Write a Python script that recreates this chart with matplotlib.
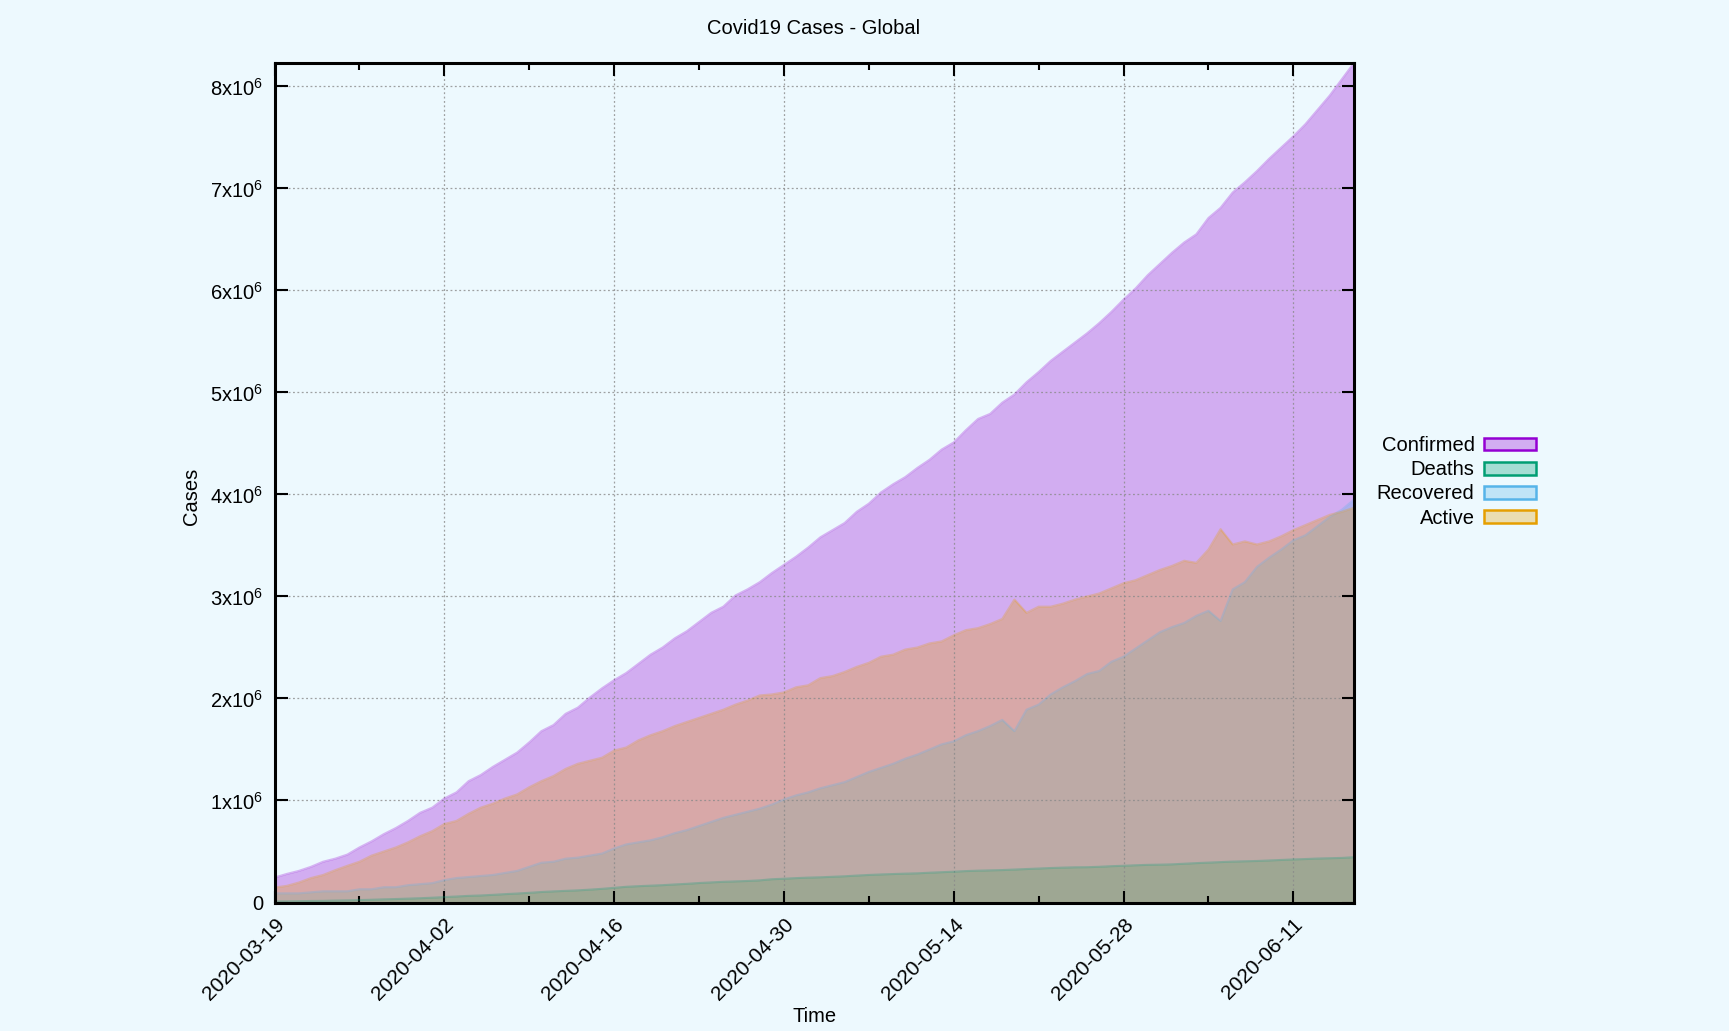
import numpy as np
import pandas as pd
import matplotlib
matplotlib.use('Agg')
import matplotlib.pyplot as plt
from matplotlib.patches import Patch

plt.rcParams.update({
    'font.family': ['Liberation Sans', 'DejaVu Sans'],
    'mathtext.fontset': 'custom',
    'mathtext.rm': 'Liberation Sans',
    'mathtext.it': 'Liberation Sans',
    'mathtext.bf': 'Liberation Sans',
})

# Data (millions of cases), one value per day from 2020-03-19
start_date = '2020-03-19'
confirmed = [0.245, 0.28, 0.31, 0.35, 0.40, 0.43, 0.47, 0.54, 0.60, 0.67,
             0.73, 0.80, 0.88, 0.93, 1.02, 1.08, 1.19, 1.25, 1.33, 1.40,
             1.47, 1.57, 1.68, 1.74, 1.85, 1.91, 2.01, 2.10, 2.18, 2.25,
             2.34, 2.43, 2.50, 2.59, 2.66, 2.75, 2.84, 2.90, 3.01, 3.07,
             3.14, 3.23, 3.31, 3.39, 3.48, 3.58, 3.65, 3.72, 3.83, 3.91,
             4.02, 4.10, 4.17, 4.26, 4.34, 4.44, 4.51, 4.63, 4.74, 4.79,
             4.90, 4.98, 5.10, 5.20, 5.31, 5.40, 5.49, 5.58, 5.68, 5.79,
             5.91, 6.02, 6.15, 6.26, 6.37, 6.47, 6.55, 6.71, 6.81, 6.96,
             7.06, 7.17, 7.29, 7.40, 7.51, 7.63, 7.77, 7.91, 8.07, 8.23]
deaths = [0.010, 0.011, 0.013, 0.015, 0.016, 0.019, 0.021, 0.024, 0.027, 0.031,
          0.034, 0.038, 0.042, 0.047, 0.053, 0.059, 0.065, 0.069, 0.075, 0.082,
          0.088, 0.095, 0.103, 0.109, 0.114, 0.119, 0.126, 0.134, 0.144, 0.154,
          0.160, 0.165, 0.170, 0.177, 0.183, 0.191, 0.197, 0.203, 0.207, 0.211,
          0.217, 0.228, 0.233, 0.239, 0.244, 0.247, 0.252, 0.257, 0.264, 0.270,
          0.275, 0.279, 0.283, 0.286, 0.292, 0.297, 0.302, 0.308, 0.312, 0.315,
          0.318, 0.323, 0.328, 0.333, 0.338, 0.342, 0.345, 0.346, 0.350, 0.356,
          0.360, 0.365, 0.369, 0.371, 0.374, 0.380, 0.386, 0.391, 0.396, 0.401,
          0.404, 0.407, 0.412, 0.417, 0.422, 0.426, 0.431, 0.434, 0.437, 0.444]
recovered = [0.09, 0.09, 0.09, 0.10, 0.11, 0.11, 0.11, 0.13, 0.13, 0.15,
             0.15, 0.17, 0.18, 0.19, 0.22, 0.24, 0.25, 0.26, 0.27, 0.29,
             0.31, 0.35, 0.39, 0.40, 0.43, 0.44, 0.46, 0.48, 0.53, 0.57,
             0.59, 0.61, 0.64, 0.68, 0.71, 0.75, 0.79, 0.83, 0.86, 0.89,
             0.92, 0.96, 1.01, 1.05, 1.08, 1.12, 1.15, 1.18, 1.23, 1.28,
             1.32, 1.36, 1.41, 1.45, 1.50, 1.55, 1.58, 1.64, 1.68, 1.73,
             1.79, 1.68, 1.89, 1.94, 2.04, 2.11, 2.17, 2.24, 2.27, 2.36,
             2.41, 2.49, 2.57, 2.65, 2.70, 2.74, 2.81, 2.86, 2.76, 3.07,
             3.14, 3.29, 3.38, 3.46, 3.55, 3.60, 3.69, 3.78, 3.85, 3.95]
active = [0.147, 0.163, 0.196, 0.24, 0.27, 0.317, 0.36, 0.40, 0.46, 0.50,
          0.54, 0.59, 0.65, 0.70, 0.77, 0.80, 0.87, 0.93, 0.97, 1.02,
          1.06, 1.13, 1.19, 1.24, 1.31, 1.36, 1.39, 1.42, 1.49, 1.52,
          1.59, 1.64, 1.68, 1.73, 1.77, 1.81, 1.85, 1.89, 1.94, 1.98,
          2.03, 2.04, 2.06, 2.11, 2.13, 2.20, 2.22, 2.26, 2.31, 2.35,
          2.41, 2.43, 2.48, 2.50, 2.54, 2.56, 2.62, 2.67, 2.69, 2.73,
          2.78, 2.97, 2.84, 2.90, 2.90, 2.93, 2.97, 3.00, 3.03, 3.08,
          3.13, 3.16, 3.21, 3.26, 3.30, 3.35, 3.33, 3.46, 3.66, 3.51,
          3.54, 3.51, 3.54, 3.59, 3.65, 3.70, 3.75, 3.80, 3.83, 3.87]

series_names = ['Confirmed', 'Deaths', 'Recovered', 'Active']
series_colors = ['#9400d3', '#009e73', '#56b4e9', '#e69f00']

dates = pd.date_range(start_date, periods=len(confirmed), freq='D')
series = [np.array(s) * 1e6 for s in (confirmed, deaths, recovered, active)]

bg = '#edf9fe'
fs = 14.5
W, H = 1729, 1031
fig = plt.figure(figsize=(W / 100, H / 100), dpi=100, facecolor=bg)
ax = fig.add_axes([274.6 / W, 1 - 902.5 / H, (1354 - 274.6) / W, (902.5 - 62.9) / H])
ax.set_facecolor(bg)

for vals, name, col in zip(series, series_names, series_colors):
    ax.fill_between(dates, 0, vals, color=col, alpha=0.3, lw=0, zorder=2)
    ax.plot(dates, vals, color=col, alpha=0.28, lw=1.5, zorder=3)

ax.set_xlim(dates[0], dates[-1])
ax.set_ylim(0, max(series[0]))

# ticks
ax.set_xticks(dates[::14])
ax.set_xticks(dates[7::14], minor=True)
ax.set_xticklabels([d.strftime('%Y-%m-%d') for d in dates[::14]],
                   rotation=45, ha='right', rotation_mode='anchor')
yt = np.arange(0, 9) * 1e6
ax.set_yticks(yt)
ax.set_yticklabels(['0'] + [r'%dx10$^{\mathregular{6}}$' % i for i in range(1, 9)])

ax.tick_params(axis='both', which='major', direction='in', length=9, width=1.5,
               top=True, right=True, labelsize=fs, color='black')
ax.tick_params(axis='x', which='major', pad=9, labelsize=15)
ax.tick_params(axis='y', which='major', pad=8)
ax.tick_params(axis='both', which='minor', direction='in', length=5, width=1.5,
               top=True, right=True)

for sp in ax.spines.values():
    sp.set_linewidth(2.2)
    sp.set_zorder(5)

ax.grid(True, which='major', color='#8a8a8a', lw=0.9, ls=(0, (1.5, 2)), alpha=0.8)
ax.set_axisbelow(False)

ax.set_xlabel('Time', fontsize=fs, va='center')
ax.xaxis.set_label_coords(0.5, (902.5 - 1016) / (902.5 - 62.9))
ax.set_ylabel('Cases', fontsize=fs, va='center')
ax.yaxis.set_label_coords((191 - 274.6) / (1354 - 274.6), 0.484)

fig.text(814 / W, 1 - 28 / H, 'Covid19 Cases - Global', fontsize=fs,
         ha='center', va='center')

handles = []
for col in series_colors:
    h = Patch(facecolor=matplotlib.colors.to_rgba(col, 0.3), edgecolor=col, lw=1.8)
    handles.append(h)
leg = ax.legend(handles, series_names, loc='upper right', markerfirst=False,
                bbox_to_anchor=(1536 / W, 1 - 436 / H), bbox_transform=fig.transFigure,
                frameon=False, fontsize=fs, handlelength=2.6, handleheight=0.6,
                handletextpad=0.45, labelspacing=0.26, borderpad=0, borderaxespad=0)
for t in leg.get_texts():
    t.set_ha('right')

fig.savefig('out.png', dpi=100, facecolor=bg)
